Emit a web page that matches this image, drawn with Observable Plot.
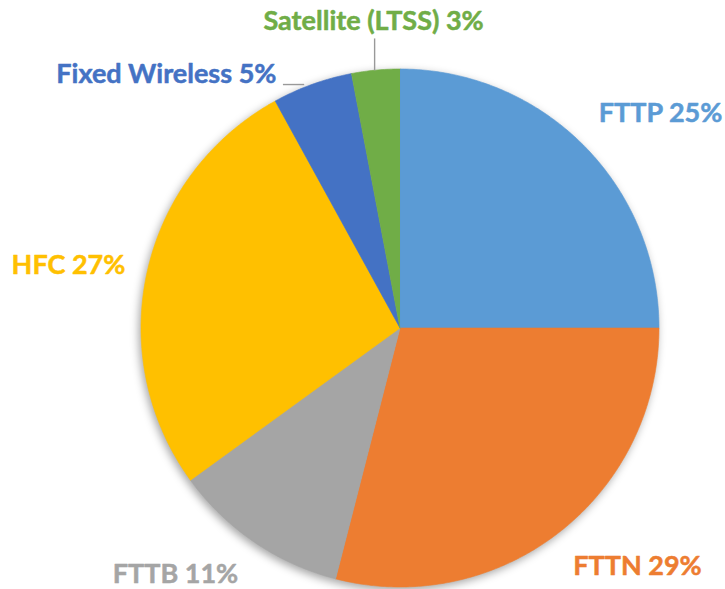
<!DOCTYPE html>
<html><head><meta charset="utf-8">
<script src="https://cdn.jsdelivr.net/npm/d3@7"></script>
<script src="https://cdn.jsdelivr.net/npm/@observablehq/plot@0.6"></script>
<style>
html,body{margin:0;padding:0;background:#fff;}
#chart svg{display:block;}
.pie g[aria-label="line"]{filter:drop-shadow(-2px 3px 4px rgba(0,0,0,0.35));}
</style></head><body><div id="chart"></div>
<script>
// ---- data ----
const categories = ["FTTP", "FTTN", "FTTB", "HFC", "Fixed Wireless", "Satellite (LTSS)"];
const shares = [25, 29, 11, 27, 5, 3];

// ---- styles ----
const colors = ["#5B9BD5", "#ED7D31", "#A5A5A5", "#FFC000", "#4472C4", "#70AD47"];

// ---- layout (label anchors, in pie-radius units from the centre) ----
const labelLayout = [
  {x: 1.006, y: 0.830, anchor: "middle"},
  {x: 0.917, y: -0.919, anchor: "middle"},
  {x: -0.867, y: -0.952, anchor: "middle"},
  {x: -1.280, y: 0.241, anchor: "middle"},
  {x: -0.477, y: 0.979, anchor: "end"},
  {x: -0.102, y: 1.183, anchor: "middle"}
];
const leaders = [
  {x1: -0.452, y1: 0.940, x2: -0.370, y2: 0.940},
  {x1: -0.098, y1: 1.118, x2: -0.098, y2: 0.995}
];

// ---- build slices from shares ----
const total = d3.sum(shares);
const piePts = [];
let cum = 0;
categories.forEach((cat, i) => {
  const a0 = cum / total * 2 * Math.PI;
  cum += shares[i];
  const a1 = cum / total * 2 * Math.PI;
  piePts.push({cat, x: 0, y: 0});
  const n = Math.max(2, Math.ceil((a1 - a0) / (Math.PI / 360)));
  for (let k = 0; k <= n; k++) {
    const t = a0 + (a1 - a0) * k / n;
    piePts.push({cat, x: Math.sin(t), y: Math.cos(t)});
  }
});

const labelRows = categories.map((cat, i) => ({
  cat, text: `${cat} ${shares[i]}%`, ...labelLayout[i]
}));

const font = {fontSize: 27, fontWeight: "bold", fontFamily: "Lato, 'Open Sans', sans-serif", stroke: "cat", strokeWidth: 0.5};

const plot = Plot.plot({
  width: 725, height: 589,
  marginLeft: 140.5, marginRight: 66.5, marginTop: 68.5, marginBottom: 2.5,
  x: {domain: [-1, 1], axis: null},
  y: {domain: [-1, 1], axis: null},
  color: {domain: categories, range: colors},
  className: "pie",
  style: {overflow: "visible", background: "#fff"},
  marks: [
    Plot.line(piePts, {x: "x", y: "y", z: "cat", fill: "cat", stroke: "cat", strokeWidth: 0.6, curve: "linear"}),
    Plot.link(leaders, {x1: "x1", y1: "y1", x2: "x2", y2: "y2", stroke: "#999999", strokeWidth: 1.4}),
    Plot.text(labelRows.filter(d => d.anchor === "middle"), {x: "x", y: "y", text: "text", fill: "cat", textAnchor: "middle", ...font}),
    Plot.text(labelRows.filter(d => d.anchor === "end"), {x: "x", y: "y", text: "text", fill: "cat", textAnchor: "end", ...font})
  ]
});
document.getElementById("chart").appendChild(plot);
</script></body></html>
